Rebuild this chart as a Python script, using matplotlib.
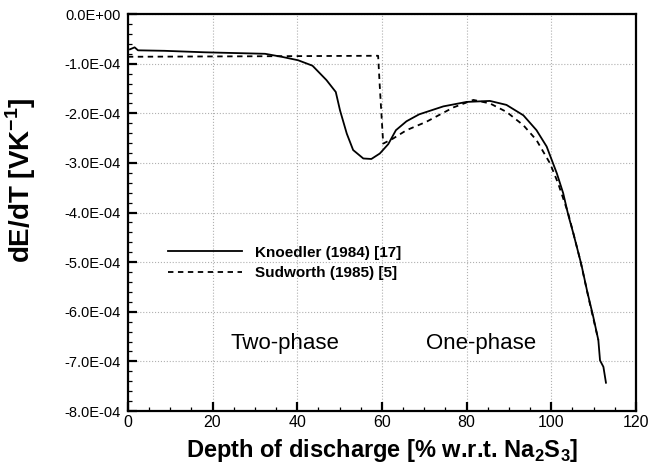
import matplotlib.pyplot as plt
from matplotlib.ticker import MultipleLocator, FuncFormatter

plt.rcParams['font.family'] = ['Liberation Sans', 'DejaVu Sans']
plt.rcParams['mathtext.fontset'] = 'custom'
plt.rcParams['mathtext.rm'] = 'Liberation Sans'
plt.rcParams['mathtext.bf'] = 'Liberation Sans:bold'
plt.rcParams['axes.unicode_minus'] = False

# Knoedler (1984) [17] - depth of discharge (%) and dE/dT (1e-4 V/K)
knoedler_x = [0.5, 1.6, 2.4, 8.7, 18.2, 32.4, 36.3, 40.2, 43.6, 46.9, 49.1,
              50.1, 51.7, 53.2, 55.6, 57.5, 59.5, 61.5, 63.3, 65.8, 68.8,
              74.5, 80.0, 85.5, 89.4, 93.4, 96.5, 98.9, 101.3, 102.8, 104.0,
              105.2, 106.8, 107.2, 108.5, 109.9, 111.1, 111.5, 112.3, 112.9]
knoedler_y = [-0.71, -0.67, -0.73, -0.74, -0.77, -0.80, -0.86, -0.93, -1.04,
              -1.33, -1.57, -1.94, -2.41, -2.74, -2.91, -2.92, -2.81, -2.62,
              -2.34, -2.16, -2.02, -1.86, -1.77, -1.75, -1.83, -2.04, -2.34,
              -2.67, -3.21, -3.61, -4.05, -4.42, -4.95, -5.09, -5.60, -6.10,
              -6.57, -6.98, -7.11, -7.43]

# Sudworth (1985) [5]
sudworth_x = [0.0, 30.0, 59.1, 59.5, 60.3, 62.6, 65.8, 70.5, 76.9, 81.6,
              85.5, 89.4, 93.4, 96.5, 99.7, 101.6, 104.0, 106.8, 109.0, 111.1]
sudworth_y = [-0.86, -0.85, -0.84, -1.47, -2.61, -2.51, -2.34, -2.17, -1.88,
              -1.73, -1.80, -1.97, -2.24, -2.54, -3.01, -3.41, -4.02, -4.95,
              -5.80, -6.57]

scale = 1e-4

fig = plt.figure(figsize=(6.49, 4.70), dpi=100)
ax = fig.add_axes([0.197, 0.1255, 0.783, 0.8445])

ax.plot(knoedler_x, [v * scale for v in knoedler_y], color='black', lw=1.3,
        label='Knoedler (1984) [17]')
ax.plot(sudworth_x, [v * scale for v in sudworth_y], color='black', lw=1.3,
        ls=(0, (3, 2.5)), label='Sudworth (1985) [5]')

ax.set_xlim(0, 120)
ax.set_ylim(-8e-4, 0)
ax.xaxis.set_major_locator(MultipleLocator(20))
ax.xaxis.set_minor_locator(MultipleLocator(5))
ax.yaxis.set_major_locator(MultipleLocator(1e-4))
ax.yaxis.set_minor_locator(MultipleLocator(2e-5))


def sci(v, pos):
    if abs(v) < 1e-12:
        return '0.0E+00'
    return '%.1E' % v


ax.yaxis.set_major_formatter(FuncFormatter(sci))

ax.tick_params(which='both', direction='in', top=False, right=False)
ax.tick_params(which='major', length=6.5, width=1.6)
ax.tick_params(which='minor', length=3.2, width=0.9)
ax.tick_params(axis='y', pad=5, labelsize=10.5)
ax.tick_params(axis='x', pad=3, labelsize=11.5)

for sp in ax.spines.values():
    sp.set_linewidth(1.6)

ax.grid(True, which='major', ls=':', color='#b0b0b0', lw=0.8)

fig.text(382 / 649, 1 - 451 / 470,
         'Depth of discharge [% w.r.t. Na$_\\mathbf{2}$S$_\\mathbf{3}$]',
         fontsize=17, fontweight='bold', ha='center', va='center')
fig.text(21 / 649, 1 - 180 / 470, 'dE/dT [VK$^\\mathbf{-1}$]', fontsize=20,
         fontweight='bold', ha='center', va='center', rotation=90)

ax.text(37.1, -6.63e-4, 'Two-phase', fontsize=16, ha='center', va='center')
ax.text(83.5, -6.63e-4, 'One-phase', fontsize=16, ha='center', va='center')

leg = ax.legend(loc='center left', bbox_to_anchor=(0.079, 0.373), frameon=False,
                prop={'weight': 'bold', 'size': 11}, handlelength=4.85,
                handletextpad=0.85, labelspacing=0.45, borderpad=0,
                borderaxespad=0)

fig.savefig('out.png', dpi=100)
